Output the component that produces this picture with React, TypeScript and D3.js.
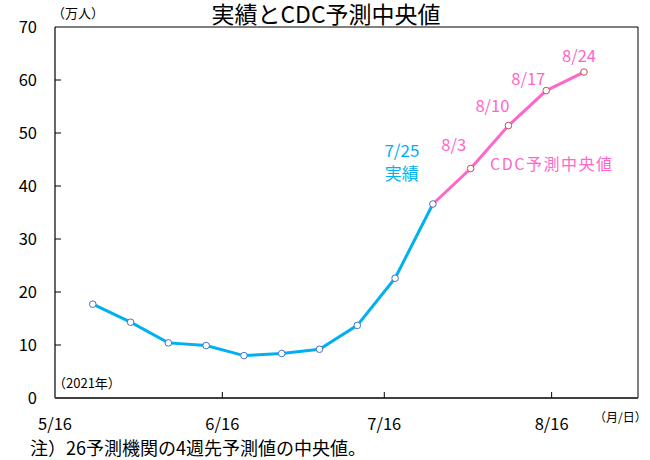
import React from "react";
import * as d3 from "d3";

const actualDates = ["2021-05-23","2021-05-30","2021-06-06","2021-06-13","2021-06-20","2021-06-27","2021-07-04","2021-07-11","2021-07-18","2021-07-25"];
const actualValues = [17.7, 14.3, 10.4, 9.9, 8.0, 8.4, 9.2, 13.7, 22.6, 36.6];
const forecastDates = ["2021-07-25","2021-08-01","2021-08-08","2021-08-15","2021-08-22"];
const forecastValues = [36.6, 43.3, 51.4, 58.0, 61.5];
const forecastLabels = ["", "8/3", "8/10", "8/17", "8/24"];
const xTickDates = ["2021-05-16","2021-06-16","2021-07-16","2021-08-16"];
const xTickLabels = ["5/16","6/16","7/16","8/16"];
const yTicks = [0, 10, 20, 30, 40, 50, 60, 70];

const W = 650, H = 460;
const left = 55, right = 638, top = 27, bottom = 398;
const FONT = "'Noto Sans CJK JP', 'Noto Sans', sans-serif";
const BLUE = "#00B0F0";
const PINK = "#FF66CC";

export default function App() {
  const parse = d3.utcParse("%Y-%m-%d");
  const x = d3.scaleUtc().domain([parse("2021-05-16")!, parse("2021-09-01")!]).range([left, right]);
  const y = d3.scaleLinear().domain([0, 70]).range([bottom, top]);
  const actual = actualDates.map((d, i) => ({ x: x(parse(d)!), y: y(actualValues[i]) }));
  const forecast = forecastDates.map((d, i) => ({ x: x(parse(d)!), y: y(forecastValues[i]), label: forecastLabels[i] }));
  const line = d3.line<{ x: number; y: number }>().x(d => d.x).y(d => d.y);
  const labelOffsets = [[0, 0], [-17, -18], [-16, -14], [-18, -6], [-5, -10]];
  const lastActual = actual[actual.length - 1];

  return (
    <svg width={W} height={H} style={{ position: "absolute", left: 0, top: 0, background: "#fff" }} fontFamily={FONT}>
      <rect x={0} y={0} width={W} height={H} fill="#fff" />
      <text x={326} y={23} textAnchor="middle" fontSize={23} fill="#000">実績とCDC予測中央値</text>
      <text x={52} y={18} fontSize={13} fill="#000">（万人）</text>

      {/* frame */}
      <line x1={left} x2={right} y1={top} y2={top} stroke="#000" strokeWidth={1} />
      <line x1={right} x2={right} y1={top} y2={bottom} stroke="#000" strokeWidth={1} />
      <line x1={left} x2={left} y1={top} y2={bottom} stroke="#000" strokeWidth={1.2} />
      <line x1={left} x2={right} y1={bottom} y2={bottom} stroke="#404040" strokeWidth={2} />

      {yTicks.map(t => (
        <g key={t}>
          {t > 0 && t < 70 && <line x1={left} x2={left + 6} y1={y(t)} y2={y(t)} stroke="#000" />}
          <text x={37} y={y(t)} dy="0.35em" textAnchor="end" fontSize={16.5} fill="#000">{t}</text>
        </g>
      ))}
      {xTickDates.map((d, i) => (
        <g key={d}>
          {i > 0 && <line x1={x(parse(d)!)} x2={x(parse(d)!)} y1={bottom} y2={bottom - 6} stroke="#000" />}
          <text x={x(parse(d)!)} y={430} textAnchor="middle" fontSize={16.5} fill="#000">{xTickLabels[i]}</text>
        </g>
      ))}
      <text x={594} y={422} fontSize={12} fill="#000">（月/日）</text>
      <text x={53} y={388} fontSize={13} fill="#000">（2021年）</text>
      <text x={30} y={455} fontSize={18} fill="#000">注）26予測機関の4週先予測値の中央値。</text>

      <path d={line(forecast) || ""} fill="none" stroke={PINK} strokeWidth={3} />
      <path d={line(actual) || ""} fill="none" stroke={BLUE} strokeWidth={3} />
      {actual.map((p, i) => (
        <circle key={i} cx={p.x} cy={p.y} r={3.3} fill="#fff" stroke="#4472C4" strokeWidth={1} />
      ))}
      {forecast.slice(1).map((p, i) => (
        <circle key={i} cx={p.x} cy={p.y} r={3.3} fill="#fff" stroke="#C0504D" strokeWidth={1} />
      ))}
      {forecast.slice(1).map((p, i) => (
        <text key={i} x={p.x + labelOffsets[i + 1][0]} y={p.y + labelOffsets[i + 1][1]} textAnchor="middle" fontSize={16.5} fill={PINK}>{p.label}</text>
      ))}
      <text x={lastActual.x - 31} y={lastActual.y - 47} textAnchor="middle" fontSize={17} fill={BLUE}>7/25</text>
      <text x={lastActual.x - 31} y={lastActual.y - 24} textAnchor="middle" fontSize={17} fill={BLUE}>実績</text>
      <text x={490} y={170} fontSize={16} letterSpacing={1.5} fill={PINK}>CDC予測中央値</text>
    </svg>
  );
}
